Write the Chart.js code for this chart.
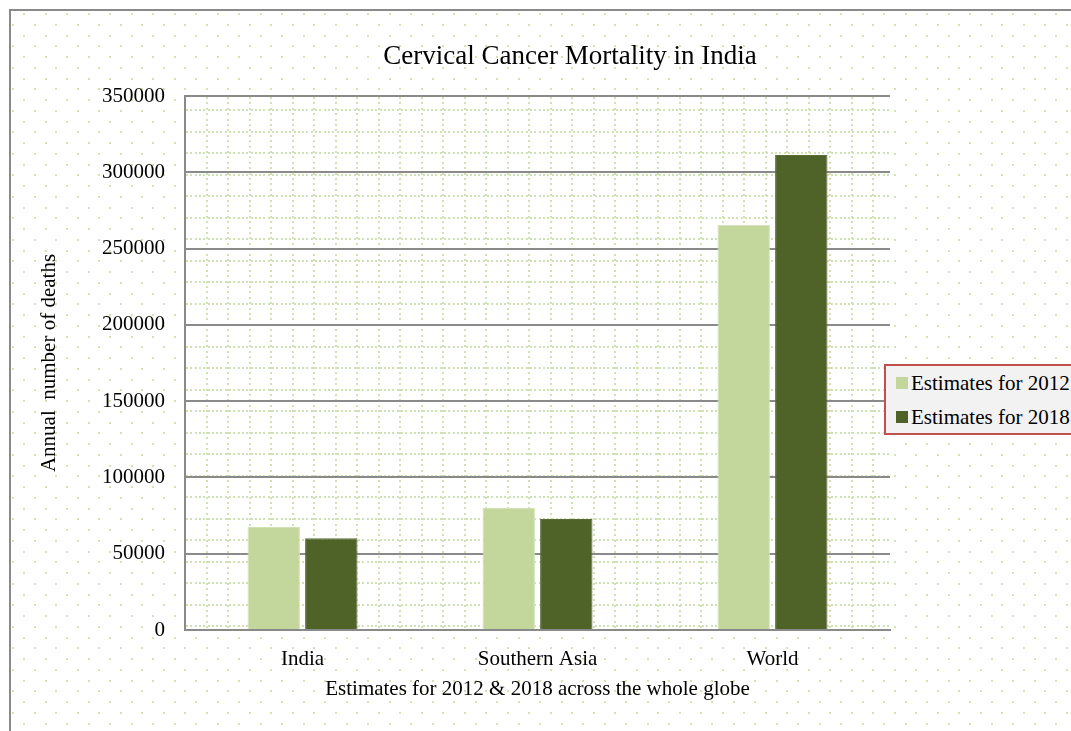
<!DOCTYPE html>
<html>
<head>
<meta charset="utf-8">
<title>Cervical Cancer Mortality in India</title>
<script src="https://cdn.jsdelivr.net/npm/chart.js@4.4.1/dist/chart.umd.min.js"></script>
<style>
  html, body { margin:0; padding:0; background:#fff; }
  #wrap { position:relative; width:1071px; height:731px; overflow:hidden; }
  #legend { position:absolute; left:884px; top:364px; width:200px; height:71px; box-sizing:border-box;
            background:#F2F2F2; border:2px solid #C0504D; font-family:'Liberation Serif','Times New Roman',serif; font-size:21px; }
  .lg-item { position:absolute; left:10px; height:24px; display:flex; align-items:center; white-space:nowrap; color:#000; }
  .lg-box { width:12px; height:12px; margin-right:3px; }
</style>
</head>
<body>
<div id="wrap">
  <canvas id="chartMortalidad" width="1071" height="731"></canvas>
  <div id="legend"></div>
</div>
<script>
// ---- datos ----
const regiones = ['India', 'Southern Asia', 'World'];
const muertes2012 = [67477, 80000, 265672];
const muertes2018 = [60078, 72700, 311365];
const serieNombres = ['Estimates for 2012', 'Estimates for 2018'];
const ejeYMin = 0, ejeYMax = 350000, ejeYPaso = 50000;

const FONT = "'Liberation Serif','Times New Roman',serif";
const COL_CLARO = '#C3D69B', COL_OSCURO = '#4F6228';

// fondo punteado del gráfico + rejilla punteada del área de trazado + marco
const fondoPlugin = {
  id: 'fondo',
  beforeDraw(chart) {
    const { ctx, width, height, chartArea: a } = chart;
    ctx.save();
    ctx.fillStyle = '#fff';
    ctx.fillRect(0, 0, width, height);
    ctx.fillStyle = '#d2e3b6';
    for (let r = 0, y = 14; y < height; r++, y = 14 + r * 10.75) {
      for (let x = r % 2 ? 13.25 : 24; x < width; x += 21.5) {
        ctx.fillRect(Math.round(x) - 1, Math.round(y) - 1, 2, 2);
      }
    }
    ctx.fillStyle = '#fff';
    ctx.fillRect(a.left, a.top, a.right - a.left, a.bottom - a.top);
    ctx.fillStyle = '#d0e1b3';
    for (let y = 110; y < a.bottom - 1; y += 21.5) {
      for (let x = a.left + 1; x < a.right; x += 4.3) ctx.fillRect(Math.round(x), Math.round(y) - 1, 2, 2);
    }
    for (let x = a.left + 21.5; x < a.right; x += 21.5) {
      for (let y = a.top + 1; y < a.bottom; y += 5.4) ctx.fillRect(Math.round(x) - 1, Math.round(y), 2, 2);
    }
    ctx.strokeStyle = '#8a8a8a'; ctx.lineWidth = 2;
    ctx.beginPath(); ctx.moveTo(10, height); ctx.lineTo(10, 10); ctx.lineTo(width, 10); ctx.stroke();
    ctx.restore();
  },
  afterDraw(chart) {
    const { ctx } = chart;
    ctx.save();
    ctx.fillStyle = '#000';
    ctx.font = '27px ' + FONT;
    ctx.textAlign = 'center'; ctx.textBaseline = 'middle';
    ctx.fillText('Cervical Cancer Mortality in India', 570, 57);
    ctx.restore();
  }
};

const ctx = document.getElementById('chartMortalidad').getContext('2d');
const chartMortalidad = new Chart(ctx, {
  type: 'bar',
  data: {
    labels: regiones,
    datasets: [
      { label: serieNombres[0], data: muertes2012, backgroundColor: COL_CLARO, borderColor: '#d3e2b6', borderWidth: 1 },
      { label: serieNombres[1], data: muertes2018, backgroundColor: COL_OSCURO, borderColor: '#5a6b38', borderWidth: 1 }
    ]
  },
  options: {
    responsive: false, animation: false, events: [],
    categoryPercentage: 0.49, barPercentage: 0.91,
    layout: { padding: { top: 96, right: 181, left: 0, bottom: 0 } },
    plugins: { legend: { display: false }, tooltip: { enabled: false } },
    scales: {
      x: {
        grid: { display: false },
        border: { display: true, color: '#8a8a8a', width: 2 },
        ticks: { color: '#000', font: { family: FONT, size: 21 }, padding: 9 },
        title: { display: true, text: 'Estimates for 2012 & 2018 across the whole globe', color: '#000',
                 font: { family: FONT, size: 21 }, padding: { bottom: 29 } },
        afterFit: s => { s.height = 101; }
      },
      y: {
        min: ejeYMin, max: ejeYMax,
        grid: { color: '#8a8a8a', lineWidth: 2, drawTicks: false },
        border: { display: true, color: '#8a8a8a', width: 2 },
        ticks: { stepSize: ejeYPaso, color: '#000', font: { family: FONT, size: 21 }, padding: 20, callback: v => String(v) },
        title: { display: true, text: 'Annual  number of deaths', color: '#000',
                 font: { family: FONT, size: 21 }, padding: { top: 37 } },
        afterFit: s => { s.width = 185; }
      }
    }
  },
  plugins: [fondoPlugin]
});

// leyenda con recuadro
document.getElementById('legend').innerHTML = chartMortalidad.data.datasets.map((d, i) =>
  `<div class="lg-item" style="top:${5 + i * 34}px"><span class="lg-box" style="background:${d.backgroundColor}"></span>${d.label}</div>`
).join('');
</script>
</body>
</html>
